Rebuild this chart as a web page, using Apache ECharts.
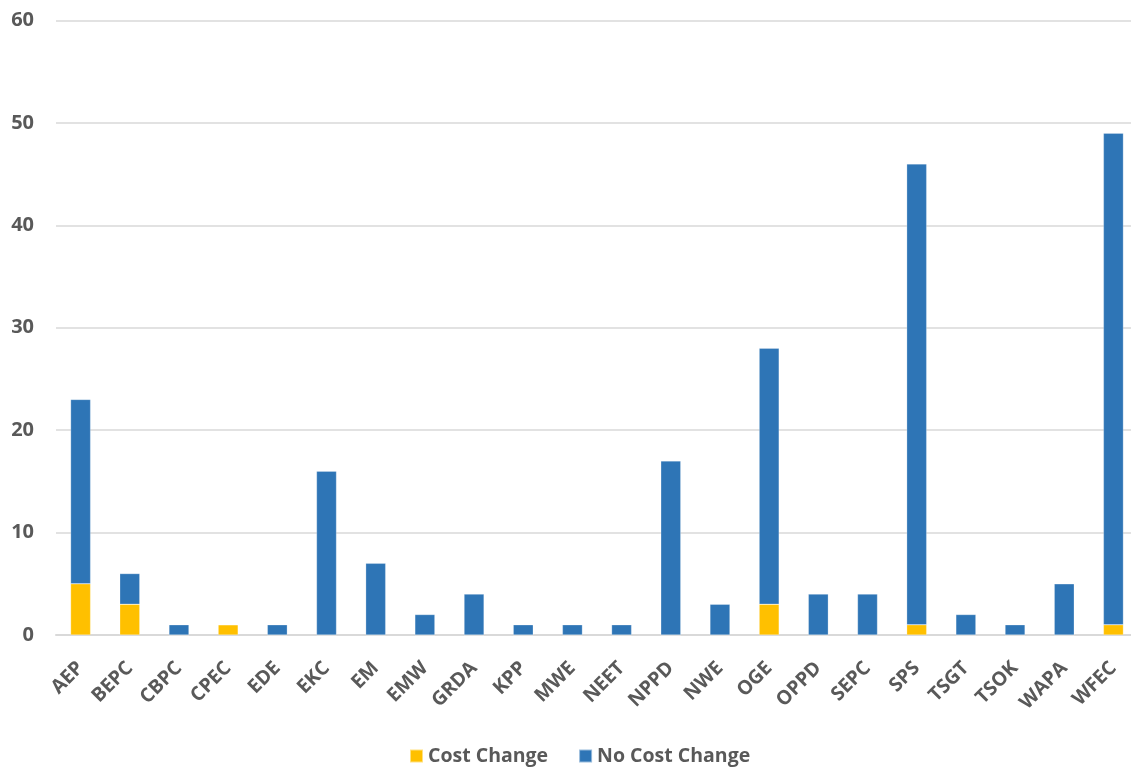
<!DOCTYPE html>
<html>
<head>
<meta charset="utf-8">
<script src="https://cdn.jsdelivr.net/npm/echarts@6/dist/echarts.min.js"></script>
<style>html,body{margin:0;padding:0;background:#fff;overflow:hidden}#c{width:1140px;height:769px}</style>
</head>
<body>
<div id="c"></div>
<script>
const categories = ["AEP","BEPC","CBPC","CPEC","EDE","EKC","EM","EMW","GRDA","KPP","MWE","NEET","NPPD","NWE","OGE","OPPD","SEPC","SPS","TSGT","TSOK","WAPA","WFEC"];
const costChange = [5,3,0,1,0,0,0,0,0,0,0,0,0,0,3,0,0,1,0,0,0,1];
const noCostChange = [18,3,1,0,1,16,7,2,4,1,1,1,17,3,25,4,4,45,2,1,5,48];
const yTicks = [0,10,20,30,40,50,60];

const chart = echarts.init(document.getElementById('c'));
const font = '"Open Sans", "Noto Sans", sans-serif';
chart.setOption({
  animation: false,
  textStyle: {fontFamily: font},
  grid: {left: 56, top: 20.5, right: 2, bottom: 134, containLabel: false},
  legend: {
    top: 741, left: 404,
    itemWidth: 13, itemHeight: 13, itemGap: 30,
    icon: 'rect',
    textStyle: {fontSize: 19.5, fontWeight: 'bold', color: '#595959', fontFamily: font},
    data: ['Cost Change', 'No Cost Change']
  },
  xAxis: {
    type: 'category',
    data: categories,
    axisTick: {show: false},
    axisLine: {lineStyle: {color: '#d9d9d9', width: 2}},
    axisLabel: {rotate: 45, fontSize: 19.5, fontWeight: 'bold', color: '#595959', margin: 30, interval: 0}
  },
  yAxis: {
    type: 'value', min: yTicks[0], max: yTicks[yTicks.length-1], interval: 10,
    axisLine: {show: false}, axisTick: {show: false},
    splitLine: {lineStyle: {color: '#d9d9d9', width: 1.5}},
    axisLabel: {fontSize: 20, fontWeight: 'bold', color: '#595959', margin: 22}
  },
  series: [
    {name: 'Cost Change', type: 'bar', stack: 't', data: costChange, barWidth: 20,
     itemStyle: {color: '#FFC000', borderColor: 'rgba(255,255,255,0.5)', borderWidth: 0.5}},
    {name: 'No Cost Change', type: 'bar', stack: 't', data: noCostChange, barWidth: 20,
     itemStyle: {color: '#2E75B6', borderColor: 'rgba(255,255,255,0.5)', borderWidth: 0.5}}
  ]
});
</script>
</body>
</html>
